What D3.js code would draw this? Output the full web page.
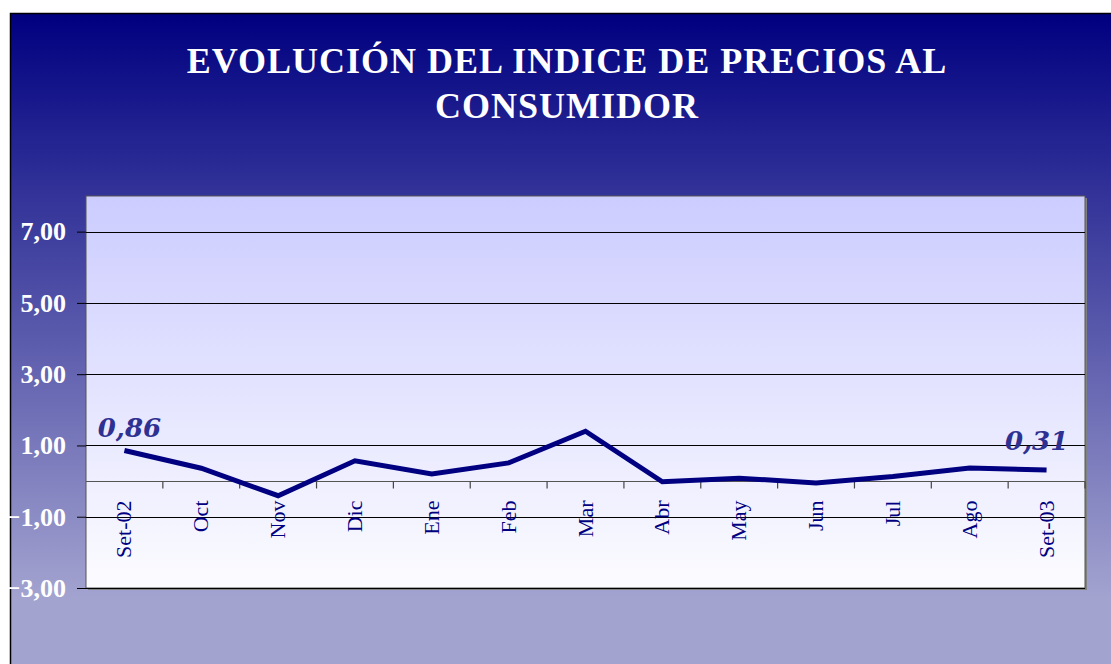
<!DOCTYPE html>
<html>
<head>
<meta charset="utf-8">
<script src="https://cdn.jsdelivr.net/npm/d3@7"></script>
<style>
  html, body { margin: 0; padding: 0; background: #fff; }
  svg { display: block; }
</style>
</head>
<body>
<div id="vis"></div>
<script>
// data
var months = ["Set-02","Oct","Nov","Dic","Ene","Feb","Mar","Abr","May","Jun","Jul","Ago","Set-03"];
var ipc = [0.86, 0.36, -0.41, 0.57, 0.20, 0.51, 1.40, -0.02, 0.08, -0.05, 0.13, 0.37, 0.31];
var yTicks = [-3, -1, 1, 3, 5, 7];
var titleLines = ["EVOLUCIÓN DEL INDICE DE PRECIOS AL", "CONSUMIDOR"];

var outer_width = 1111;
var outer_height = 664;
var margin = {top: 196, right: 26, bottom: 76, left: 86};
var plot_width = outer_width - margin.left - margin.right;
var plot_height = outer_height - margin.top - margin.bottom;

var svg = d3.select("#vis")
  .append("svg")
  .attr("width", outer_width)
  .attr("height", outer_height);

var defs = svg.append("defs");

var bgGrad = defs.append("linearGradient")
  .attr("id","bgGrad")
  .attr("x1",0).attr("y1",0).attr("x2",0).attr("y2",1);
bgGrad.append("stop").attr("offset","0%").attr("stop-color","#000080");
bgGrad.append("stop").attr("offset","88%").attr("stop-color","#a3a3d0");
bgGrad.append("stop").attr("offset","100%").attr("stop-color","#a3a3d0");

var plotGrad = defs.append("linearGradient")
  .attr("id","plotGrad")
  .attr("x1",0).attr("y1",0).attr("x2",0).attr("y2",1);
plotGrad.append("stop").attr("offset","0%").attr("stop-color","#ccccff");
plotGrad.append("stop").attr("offset","100%").attr("stop-color","#fcfcff");

// slide frame
svg.append("rect")
  .attr("x",10.5).attr("y",13.5)
  .attr("width",outer_width)
  .attr("height",outer_height)
  .style("fill","url(#bgGrad)")
  .style("stroke","#000")
  .style("stroke-width",1.5);

// title
svg.append("text")
  .attr("x", 567)
  .attr("y", 73)
  .style("text-anchor","middle")
  .style("font-family","'Liberation Serif', serif")
  .style("font-weight","bold")
  .style("font-size","36px")
  .style("letter-spacing","1px")
  .style("fill","#fff")
  .selectAll("tspan")
  .data(titleLines)
  .enter()
  .append("tspan")
  .attr("x", 567)
  .attr("dy", function(d, i){ return i == 0 ? 0 : 45; })
  .text(function(d){ return d; });

var g = svg.append("g")
  .attr("transform","translate(" + margin.left + "," + margin.top + ")");

var xScale = d3.scaleBand()
  .domain(months)
  .range([0, plot_width]);

var yScale = d3.scaleLinear()
  .domain([-3, 8])
  .range([plot_height, 0]);

// plot area + shadow
g.append("rect")
  .attr("x",2).attr("y",2)
  .attr("width",plot_width).attr("height",plot_height)
  .style("fill","#808080");
g.append("rect")
  .attr("width",plot_width).attr("height",plot_height)
  .style("fill","url(#plotGrad)")
  .style("stroke","#555")
  .style("stroke-width",1);

// gridlines
g.selectAll(".grid")
  .data(yTicks)
  .enter()
  .append("line")
  .attr("class","grid")
  .attr("x1",0).attr("x2",plot_width)
  .attr("y1",function(d){ return Math.round(yScale(d)) + 0.5; })
  .attr("y2",function(d){ return Math.round(yScale(d)) + 0.5; })
  .style("stroke","#000")
  .style("stroke-width",1);

// y axis
var yAxis = g.append("g")
  .call(d3.axisLeft(yScale)
    .tickValues(yTicks)
    .tickSize(9)
    .tickPadding(11)
    .tickFormat(function(d){ return d3.format(".2f")(d).replace(".", ","); }));
yAxis.select(".domain").remove();
yAxis.selectAll("line").style("stroke","#000");
yAxis.selectAll("text")
  .style("font-family","'Liberation Serif', serif")
  .style("font-weight","bold")
  .style("font-size","26px")
  .style("fill","#fff");

// zero axis with category ticks
var zeroY = Math.round(yScale(0)) + 0.5;
g.append("line")
  .attr("x1",0).attr("x2",plot_width)
  .attr("y1",zeroY).attr("y2",zeroY)
  .style("stroke","#555")
  .style("stroke-width",1.2);

g.selectAll(".xtick")
  .data(months.slice(1).concat(["end"]))
  .enter()
  .append("line")
  .attr("class","xtick")
  .attr("x1",function(d, i){ return (i + 1) * xScale.step(); })
  .attr("x2",function(d, i){ return (i + 1) * xScale.step(); })
  .attr("y1",zeroY).attr("y2",zeroY + 7)
  .style("stroke","#444")
  .style("stroke-width",1.2);

// category labels
g.selectAll(".xlabel")
  .data(months)
  .enter()
  .append("text")
  .attr("class","xlabel")
  .attr("transform",function(d){
    var cx = xScale(d) + xScale.bandwidth() / 2 + 7;
    return "translate(" + cx + "," + (zeroY + 19) + ") rotate(-90)";
  })
  .style("text-anchor","end")
  .style("font-family","'Liberation Serif', serif")
  .style("font-size","22px")
  .style("fill","#000080")
  .text(function(d){ return d; });

// line
var line = d3.line()
  .x(function(d, i){ return xScale(months[i]) + xScale.bandwidth() / 2; })
  .y(function(d){ return yScale(d); });

g.append("path")
  .datum(ipc)
  .attr("d", line)
  .style("fill","none")
  .style("stroke","#000080")
  .style("stroke-width",5)
  .style("stroke-linejoin","miter");

// first / last value labels
var ends = [0, ipc.length - 1];
g.selectAll(".vlabel")
  .data(ends)
  .enter()
  .append("text")
  .attr("class","vlabel")
  .attr("x",function(i){ return xScale(months[i]) + xScale.bandwidth() / 2 + (i == 0 ? 5 : -10); })
  .attr("y",function(i){ return yScale(ipc[i]) - (i == 0 ? 13 : 20); })
  .style("text-anchor","middle")
  .style("font-family","'DejaVu Serif', serif")
  .style("font-weight","bold")
  .style("font-style","italic")
  .style("font-size","26px")
  .style("fill","#2e3192")
  .text(function(i){ return d3.format(".2f")(ipc[i]).replace(".", ","); });
</script>
</body>
</html>
